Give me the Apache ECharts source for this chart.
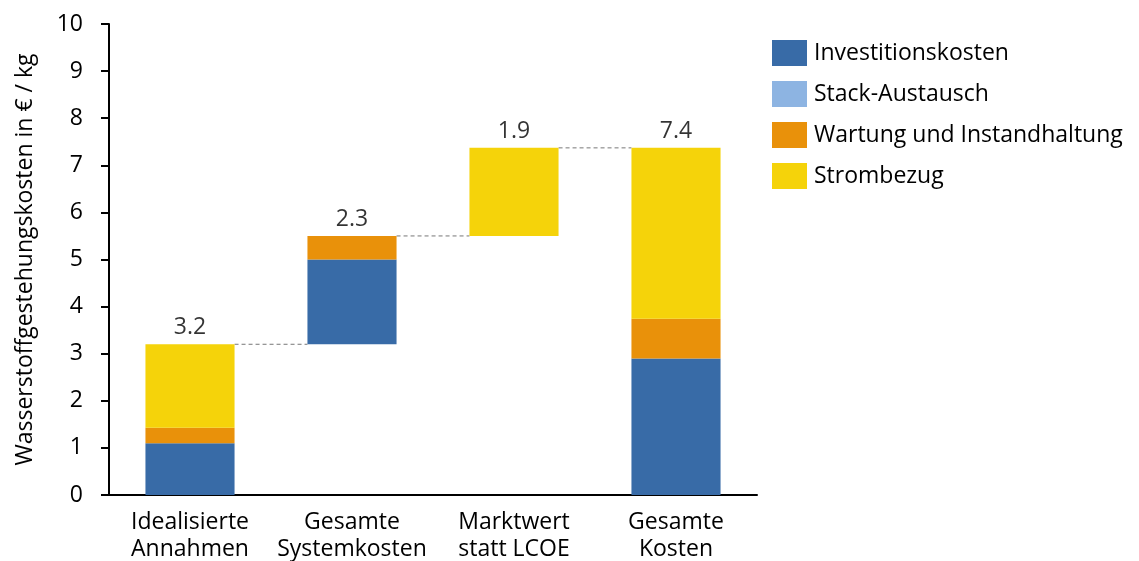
<!DOCTYPE html>
<html lang="de">
<head>
    <meta charset="UTF-8">
    <title>Wasserstoffgestehungskosten</title>
    <style>
        html, body { margin: 0; padding: 0; background: #fff; }
        #main { width: 1139px; height: 561px; }
    </style>
</head>
<body>
<div id="main"></div>
<script src="https://cdn.jsdelivr.net/npm/echarts@6/dist/echarts.min.js"></script>
<script>
    // Werte (€/kg)
    var categories = ['Idealisierte\nAnnahmen', 'Gesamte\nSystemkosten', 'Marktwert\nstatt LCOE', 'Gesamte\nKosten'];
    var base = [0, 3.2, 5.5, 0];
    var investition = [1.1, 1.8, 0, 2.9];
    var stackAustausch = [0, 0, 0, 0];
    var wartung = [0.33, 0.5, 0, 0.84];
    var strom = [1.77, 0, 1.87, 3.63];
    var totalLabels = ['3.2', '2.3', '1.9', '7.4'];
    var yTicks = [0, 10, 1];

    var font = '"Open Sans", "Noto Sans", sans-serif';
    var fs = 23;
    var barW = 0.55;

    var tops = [];
    for (var i = 0; i < categories.length; i++) {
        tops.push(base[i] + investition[i] + stackAustausch[i] + wartung[i] + strom[i]);
    }
    // Verbinder: von Oberkante Balken i zu Balken i+1
    var connectors = [];
    for (var j = 0; j < categories.length - 1; j++) {
        connectors.push([j, tops[j]]);
    }

    function bar(name, data, color) {
        return {
            name: name,
            type: 'bar',
            stack: 'w',
            barWidth: (barW * 100) + '%',
            data: data,
            itemStyle: { color: color },
            emphasis: { disabled: true }
        };
    }

    var myChart = echarts.init(document.getElementById('main'));
    var option = {
        animation: false,
        textStyle: { fontFamily: font },
        grid: { left: 109, right: 382, top: 24, bottom: 66, containLabel: false, outerBoundsMode: 'none' },
        legend: {
            orient: 'vertical',
            left: 767,
            top: 35,
            itemWidth: 35,
            itemHeight: 26,
            itemGap: 15,
            icon: 'rect',
            textStyle: { fontFamily: font, fontSize: fs, color: '#000', padding: [0, 0, 0, 2] },
            data: ['Investitionskosten', 'Stack-Austausch', 'Wartung und Instandhaltung', 'Strombezug']
        },
        xAxis: {
            type: 'category',
            data: categories,
            axisLine: { lineStyle: { color: '#000', width: 2 } },
            axisTick: { show: false },
            axisLabel: { color: '#000', fontSize: fs, lineHeight: 27, margin: 14, fontFamily: font, interval: 0 }
        },
        yAxis: {
            type: 'value',
            min: yTicks[0],
            max: yTicks[1],
            interval: yTicks[2],
            name: 'Wasserstoffgestehungskosten in € / kg',
            nameLocation: 'middle',
            nameGap: 72,
            nameTextStyle: { color: '#000', fontSize: fs, fontFamily: font },
            axisLine: { show: true, lineStyle: { color: '#000', width: 2 } },
            axisTick: { show: true, length: 8, lineStyle: { color: '#000', width: 2 } },
            axisLabel: { color: '#000', fontSize: fs, margin: 26, fontFamily: font },
            splitLine: { show: false }
        },
        series: [
            {
                name: 'base',
                type: 'bar',
                stack: 'w',
                barWidth: (barW * 100) + '%',
                data: base,
                itemStyle: { color: 'transparent' },
                emphasis: { disabled: true },
                tooltip: { show: false }
            },
            bar('Investitionskosten', investition, '#386BA7'),
            bar('Stack-Austausch', stackAustausch, '#8DB4E2'),
            bar('Wartung und Instandhaltung', wartung, '#E9910A'),
            bar('Strombezug', strom, '#F5D30A'),
            {
                type: 'custom',
                data: connectors,
                z: 1,
                renderItem: function (params, api) {
                    var i = api.value(0);
                    var y = api.value(1);
                    var half = api.size([1, 0])[0] * barW / 2;
                    var p1 = api.coord([i, y]);
                    var p2 = api.coord([i + 1, y]);
                    return {
                        type: 'line',
                        shape: { x1: p1[0] + half, y1: p1[1], x2: p2[0] - half, y2: p2[1] },
                        style: { stroke: '#777', lineWidth: 1, lineDash: [4, 3] }
                    };
                }
            },
            {
                type: 'scatter',
                symbolSize: 0,
                data: tops.map(function (t, k) { return [k, t]; }),
                label: {
                    show: true,
                    position: 'top',
                    distance: 5,
                    color: '#000',
                    fontSize: fs,
                    fontFamily: font,
                    formatter: function (p) { return totalLabels[p.dataIndex]; }
                },
                emphasis: { disabled: true }
            }
        ]
    };
    myChart.setOption(option);
</script>
</body>
</html>
